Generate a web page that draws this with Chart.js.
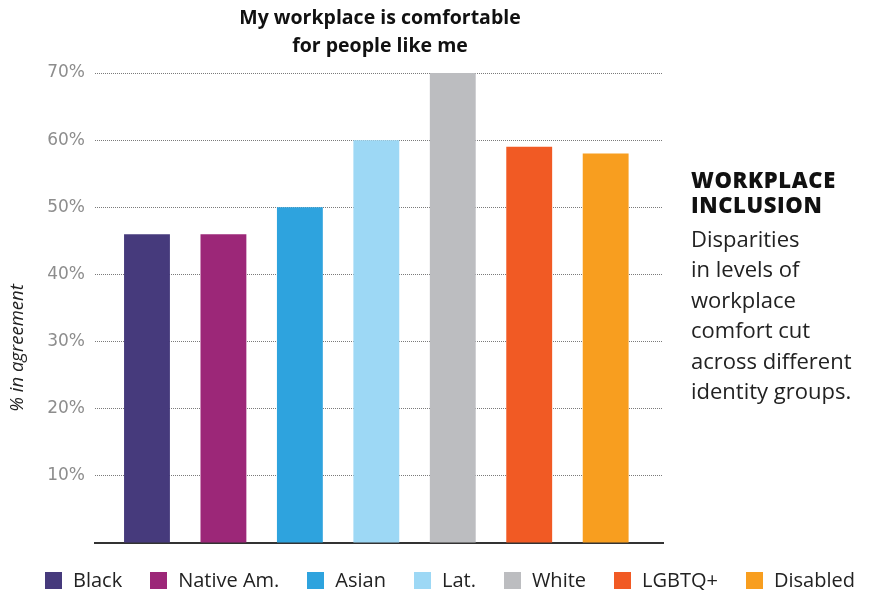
<!DOCTYPE html>
<html>
<head>
<meta charset="utf-8">
<script src="https://cdn.jsdelivr.net/npm/chart.js@4.4.1/dist/chart.umd.min.js"></script>
<style>
  body { margin: 0; background: #fff; }
  #wrap { position: relative; width: 870px; height: 590px; font-family: "Open Sans", sans-serif; }
  #chart { position: absolute; left: 0; top: 0; }
  #legend { position: absolute; left: 45px; top: 568px; display: flex; align-items: center; font-size: 20px; line-height: 24px; color: #222; }
  #legend .item { display: flex; align-items: center; margin-right: 28px; }
  #legend .item:last-child { margin-right: 0; }
  #legend .swatch { width: 17px; height: 17px; margin-right: 11px; }
  #side { position: absolute; left: 691px; top: 167px; color: #222; }
  #side h2 { margin: 0 0 6px 0; font-size: 22px; line-height: 25px; font-weight: 800; color: #111; letter-spacing: 0.6px; }
  #side p { margin: 0; font-size: 22px; line-height: 30.4px; }
</style>
</head>
<body>
<div id="wrap">
  <canvas id="chart" width="870" height="590"></canvas>
  <div id="legend"></div>
  <div id="side">
    <h2>WORKPLACE<br>INCLUSION</h2>
    <p>Disparities<br>in levels of<br>workplace<br>comfort cut<br>across different<br>identity groups.</p>
  </div>
</div>
<script>
const groups = ["Black", "Native Am.", "Asian", "Lat.", "White", "LGBTQ+", "Disabled"];
const agreement = [46, 46, 50, 60, 70, 59, 58];
const groupColors = ["#463a7c", "#9c2778", "#2ea3de", "#9dd8f5", "#bcbdc0", "#f15a24", "#f89e1f"];
const titleLines = ["My workplace is comfortable", "for people like me"];
const yAxisTitle = "% in agreement";

// legend under the plot
const legendEl = document.getElementById("legend");
groups.forEach((g, i) => {
  const item = document.createElement("div");
  item.className = "item";
  item.innerHTML = '<span class="swatch" style="background:' + groupColors[i] + '"></span>' + g;
  legendEl.appendChild(item);
});

// title over the plot area + rotated axis label
const headerText = {
  id: "headerText",
  afterDraw(chart) {
    const { ctx, chartArea } = chart;
    const cx = (chartArea.left + chartArea.right) / 2;
    ctx.save();
    ctx.fillStyle = "#111";
    ctx.textAlign = "center";
    ctx.textBaseline = "middle";
    ctx.font = 'bold 19.5px "Open Sans", sans-serif';
    titleLines.forEach((line, i) => ctx.fillText(line, cx + 1, 18 + i * 28));
    ctx.translate(18, 348);
    ctx.rotate(-Math.PI / 2);
    ctx.font = 'italic 500 18.5px "Open Sans", sans-serif';
    ctx.fillStyle = "#222";
    ctx.fillText(yAxisTitle, 0, 0);
    ctx.restore();
  }
};

new Chart(document.getElementById("chart"), {
  type: "bar",
  data: {
    datasets: [{
      data: agreement.map((v, i) => ({ x: i, y: v })),
      backgroundColor: groupColors,
      barPercentage: 0.6,
      categoryPercentage: 1
    }]
  },
  options: {
    responsive: false,
    animation: false,
    layout: { padding: { top: 73, right: 207, bottom: 47, left: 0 } },
    plugins: {
      legend: { display: false },
      tooltip: { enabled: false }
    },
    scales: {
      x: {
        type: "linear",
        offset: false,
        min: -0.68,
        max: groups.length - 0.25,
        // one tick per group so the bar width follows the group spacing
        afterBuildTicks: (scale) => { scale.ticks = groups.map((g, i) => ({ value: i })); },
        grid: { display: false },
        ticks: { display: false },
        border: { display: true, color: "#333", width: 2 },
        afterFit: (scale) => { scale.height = 0; }
      },
      y: {
        min: 0,
        max: 70,
        ticks: {
          stepSize: 10,
          padding: 10,
          color: "#8d8d8d",
          font: { family: '"DejaVu Sans", sans-serif', size: 17 },
          callback: (v) => (v === 0 ? "" : v + "%")
        },
        grid: {
          drawTicks: false,
          color: (c) => (c.tick && c.tick.value === 0 ? "rgba(0,0,0,0)" : "#7a7a7a"),
          lineWidth: 1
        },
        border: { display: false, dash: [1, 1] },
        afterFit: (scale) => { scale.width = 95; }
      }
    }
  },
  plugins: [headerText]
});
</script>
</body>
</html>
